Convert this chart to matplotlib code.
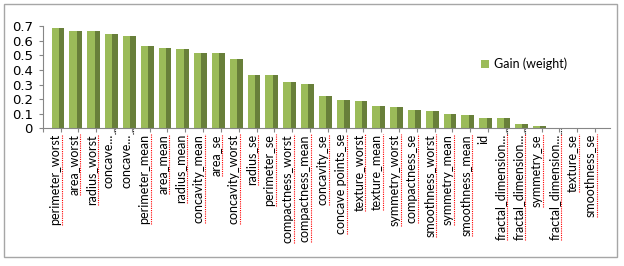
import numpy as np
import matplotlib
matplotlib.use("Agg")
import matplotlib.pyplot as plt
from matplotlib.patches import Patch, Rectangle
from matplotlib.lines import Line2D

# feature names and their gain (weight)
features = ["perimeter_worst", "area_worst", "radius_worst", "concave...", "concave...",
            "perimeter_mean", "area_mean", "radius_mean", "concavity_mean", "area_se",
            "concavity_worst", "radius_se", "perimeter_se", "compactness_worst",
            "compactness_mean", "concavity_se", "concave points_se", "texture_worst",
            "texture_mean", "symmetry_worst", "compactness_se", "smoothness_worst",
            "symmetry_mean", "smoothness_mean", "id", "fractal_dimension...",
            "fractal_dimension...", "symmetry_se", "fractal_dimension...", "texture_se",
            "smoothness_se"]
gain = [0.685, 0.669, 0.668, 0.648, 0.634, 0.562, 0.548, 0.541, 0.518, 0.518,
        0.473, 0.365, 0.365, 0.319, 0.301, 0.219, 0.194, 0.185, 0.155, 0.146,
        0.127, 0.121, 0.096, 0.094, 0.073, 0.073, 0.032, 0.018, 0.0, 0.0, 0.0]
yticks = [0, 0.1, 0.2, 0.3, 0.4, 0.5, 0.6, 0.7]
ytick_labels = ["0", "0.1", "0.2", "0.3", "0.4", "0.5", "0.6", "0.7"]
spellchecked = [True, True, True, False, False, True, True, True, True, True,
                True, True, True, True, True, True, True, True, True, True,
                True, True, True, True, False, True, True, True, True, True, True]

light = "#9BBB59"
dark = "#687F3A"

fig = plt.figure(figsize=(6.24, 2.66), dpi=100)
W, H = 624, 266
ax = fig.add_axes([42.7 / W, 1 - 128.5 / H, (610 - 42.7) / W, (128.5 - 26) / H])

x = np.arange(len(features))
# two-tone bars to imitate the 3D column look
ax.bar(x, gain, width=0.41, align="edge", color=light, linewidth=0)
ax.bar(x + 0.41, gain, width=0.31, align="edge", color=dark, linewidth=0)

ax.set_xlim(-0.5, 31.34)
ax.set_ylim(0, 0.7)
ax.set_yticks(yticks)
ax.set_yticklabels(ytick_labels, fontsize=9.5, family="DejaVu Sans")
ax.tick_params(axis="y", length=3, width=0.8, color="#868686", pad=4)

ax.set_xticks(x + 0.22)
ax.set_xticklabels(features, rotation=90, fontsize=9, family="Lato", va="top", ha="center")
ax.set_xticks(np.arange(len(features) + 1) - 0.5, minor=True)
ax.tick_params(axis="x", which="major", length=0, pad=4)
ax.tick_params(axis="x", which="minor", length=3, width=0.8, color="#868686")

for side in ["top", "right"]:
    ax.spines[side].set_visible(False)
for side in ["left", "bottom"]:
    ax.spines[side].set_color("#868686")
    ax.spines[side].set_linewidth(0.8)

fig.legend(handles=[Patch(facecolor=light, edgecolor="none", label="Gain (weight)")],
           loc="center left", bbox_to_anchor=(475 / W, 1 - 64 / H), frameon=False,
           handlelength=0.6, handleheight=0.6, handletextpad=0.4, borderpad=0,
           prop={"family": "Lato", "size": 9})

# outer chart border
fig.patches.append(Rectangle((4 / W, 9 / H), 613 / W, 253 / H, transform=fig.transFigure,
                             fill=False, edgecolor="#A6A6A6", linewidth=1))

# spell-check underlines next to the rotated labels
fig.canvas.draw()
renderer = fig.canvas.get_renderer()
for lab, flag in zip(ax.get_xticklabels(), spellchecked):
    bb = lab.get_window_extent(renderer)
    if flag:
        fig.lines.append(Line2D([(bb.x1 + 0.5) / W] * 2, [bb.y0 / H, bb.y1 / H],
                                transform=fig.transFigure, color="red",
                                linewidth=0.8, linestyle=(0, (1, 1))))
    elif lab.get_text().endswith("..."):
        fig.lines.append(Line2D([(bb.x1 + 0.5) / W] * 2, [bb.y1 / H, (bb.y1 + 5) / H],
                                transform=fig.transFigure, color="black",
                                linewidth=0.8, linestyle=(0, (1, 1))))
for lab in ax.get_xticklabels():
    if lab.get_text() == "fractal_dimension...":
        bb = lab.get_window_extent(renderer)
        fig.lines.append(Line2D([(bb.x1 + 0.5) / W] * 2, [bb.y1 / H, (bb.y1 + 5) / H],
                                transform=fig.transFigure, color="black",
                                linewidth=0.8, linestyle=(0, (1, 1))))

fig.savefig("out.png", dpi=100)
